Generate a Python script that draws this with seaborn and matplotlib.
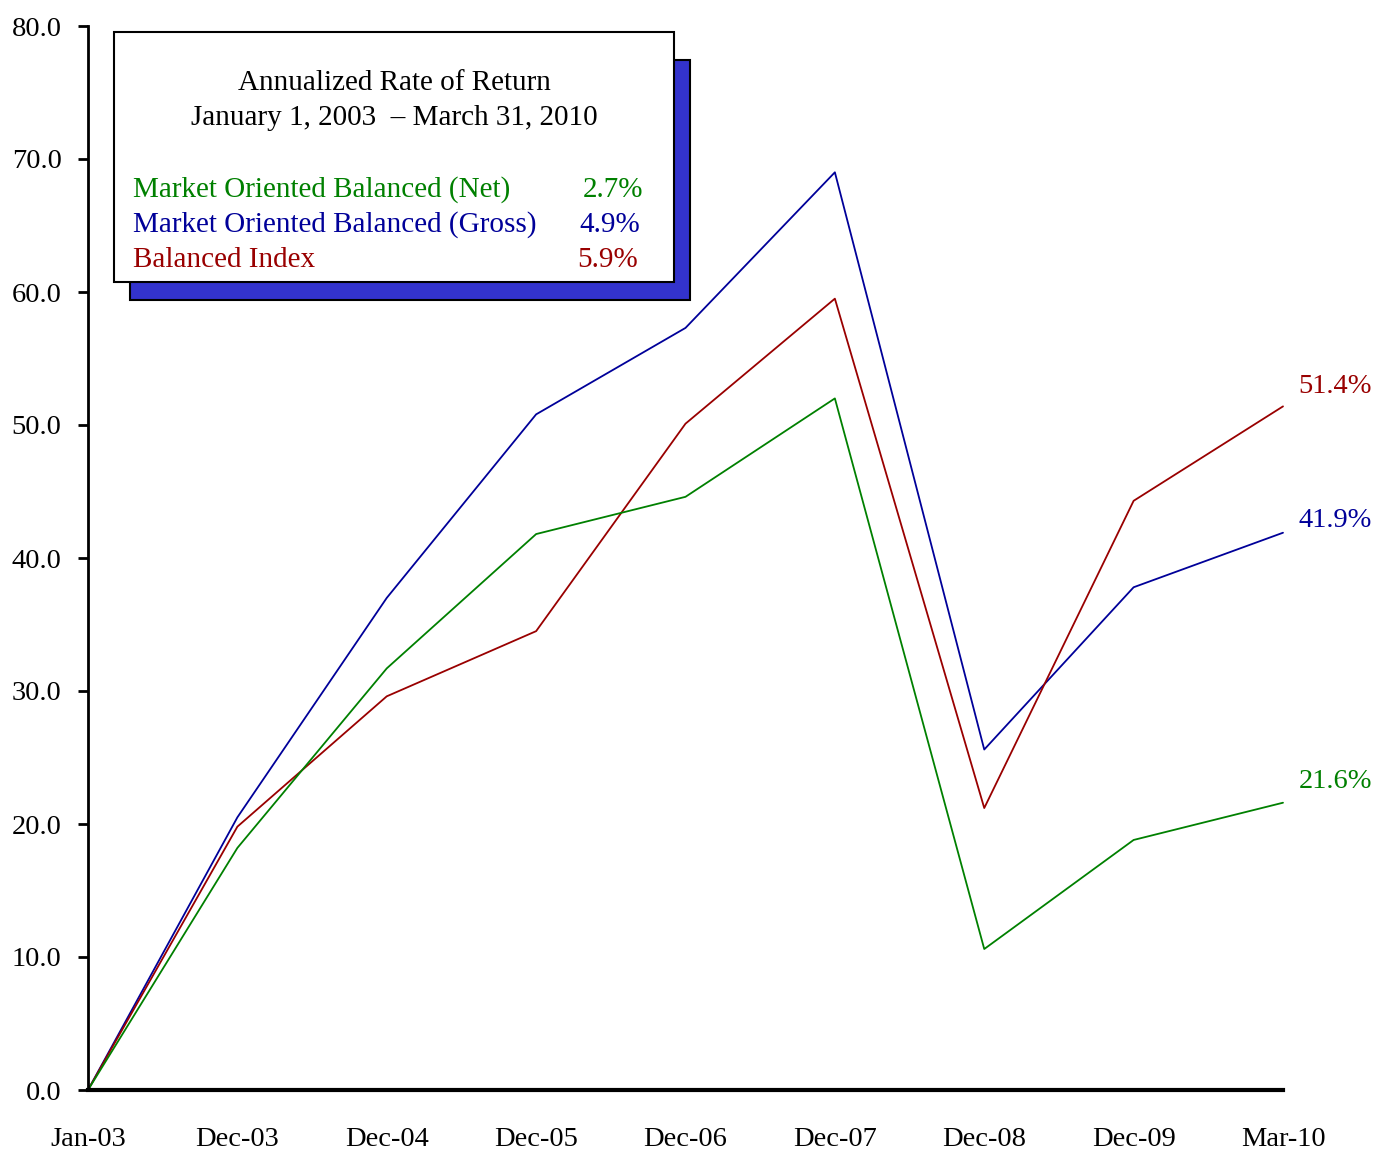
import matplotlib
matplotlib.use("Agg")
import matplotlib.pyplot as plt
import matplotlib.patches as mpatches
import seaborn as sns
import pandas as pd

categories = ["Jan-03", "Dec-03", "Dec-04", "Dec-05", "Dec-06", "Dec-07", "Dec-08", "Dec-09", "Mar-10"]
net = [0.0, 18.2, 31.7, 41.8, 44.6, 52.0, 10.6, 18.8, 21.6]
gross = [0.0, 20.5, 37.0, 50.8, 57.3, 69.0, 25.6, 37.8, 41.9]
index = [0.0, 19.8, 29.6, 34.5, 50.1, 59.5, 21.2, 44.3, 51.4]
series_names = ["Market Oriented Balanced (Net)", "Market Oriented Balanced (Gross)", "Balanced Index"]
annualized = ["2.7%", "4.9%", "5.9%"]
end_labels = ["21.6%", "41.9%", "51.4%"]
colors = ["#008000", "#000099", "#990000"]

sns.set_style("white")
plt.rcParams["font.family"] = ["Liberation Serif", "DejaVu Serif"]
plt.rcParams["text.color"] = "black"
plt.rcParams["xtick.color"] = "black"
plt.rcParams["ytick.color"] = "black"
plt.rcParams["xtick.labelcolor"] = "black"
plt.rcParams["ytick.labelcolor"] = "black"

rows = []
for name, vals in zip(series_names, [net, gross, index]):
    for i, (c, v) in enumerate(zip(categories, vals)):
        rows.append({"pos": i, "cat": c, "value": v, "series": name})
df = pd.DataFrame(rows)

fig = plt.figure(figsize=(13.76, 11.5), dpi=100)
ax = fig.add_axes([88/1376, 1 - 1090/1150, (1283-88)/1376, (1090-26)/1150])

sns.lineplot(data=df, x="pos", y="value", hue="series", palette=dict(zip(series_names, colors)),
             hue_order=[series_names[1], series_names[2], series_names[0]],
             linewidth=1.3, ax=ax, legend=False, clip_on=False)

ax.set_xlim(0, len(categories) - 1)
ax.set_ylim(0, 80)
ax.set_xticks(range(len(categories)))
ax.set_xticklabels(categories)
ax.set_yticks(range(0, 81, 10))
ax.set_yticklabels([f"{v:.1f}" for v in range(0, 81, 10)])
ax.set_xlabel("")
ax.set_ylabel("")
ax.tick_params(axis="x", length=0, pad=27, labelsize=20.5)
ax.tick_params(axis="y", length=7, width=2, direction="out", pad=12, labelsize=20.5, left=True)
for s in ["top", "right"]:
    ax.spines[s].set_visible(False)
ax.spines["left"].set_linewidth(2)
ax.spines["bottom"].set_linewidth(3)
ax.spines["left"].set_color("black")
ax.spines["bottom"].set_color("black")
ax.grid(False)

# end labels
label_offsets = [15, 9, 14]
for vals, lab, col, off in zip([net, gross, index], end_labels, colors, label_offsets):
    ax.annotate(lab, xy=(len(categories) - 1, vals[-1]), xytext=(11, off), textcoords="offset points",
                ha="left", va="center", fontsize=20.5, color=col, annotation_clip=False)

# legend box with shadow (figure pixel coords)
def fx(px):
    return px / 1376
def fy(py):
    return 1 - py / 1150

shadow = mpatches.Rectangle((fx(130), fy(300)), fx(690) - fx(130), fy(60) - fy(300),
                            transform=fig.transFigure, facecolor="#3333CC", edgecolor="black",
                            linewidth=1.5, zorder=5)
box = mpatches.Rectangle((fx(114), fy(282)), fx(674) - fx(114), fy(32) - fy(282),
                         transform=fig.transFigure, facecolor="white", edgecolor="black",
                         linewidth=1.5, zorder=6)
fig.patches.extend([shadow, box])

fig.text(fx(394), fy(83), "Annualized Rate of Return", ha="center", va="center", fontsize=21, zorder=7)
fig.text(fx(394), fy(118), "January 1, 2003  \u2013 March 31, 2010", ha="center", va="center", fontsize=21, zorder=7)
legend_y = [190, 225, 260]
value_right = [643, 640, 638]
for name, val, col, y, xr in zip(series_names, annualized, colors, legend_y, value_right):
    fig.text(fx(133), fy(y), name, ha="left", va="center", fontsize=21, color=col, zorder=7)
    fig.text(fx(xr), fy(y), val, ha="right", va="center", fontsize=21, color=col, zorder=7)

fig.savefig("out.png", dpi=100)
